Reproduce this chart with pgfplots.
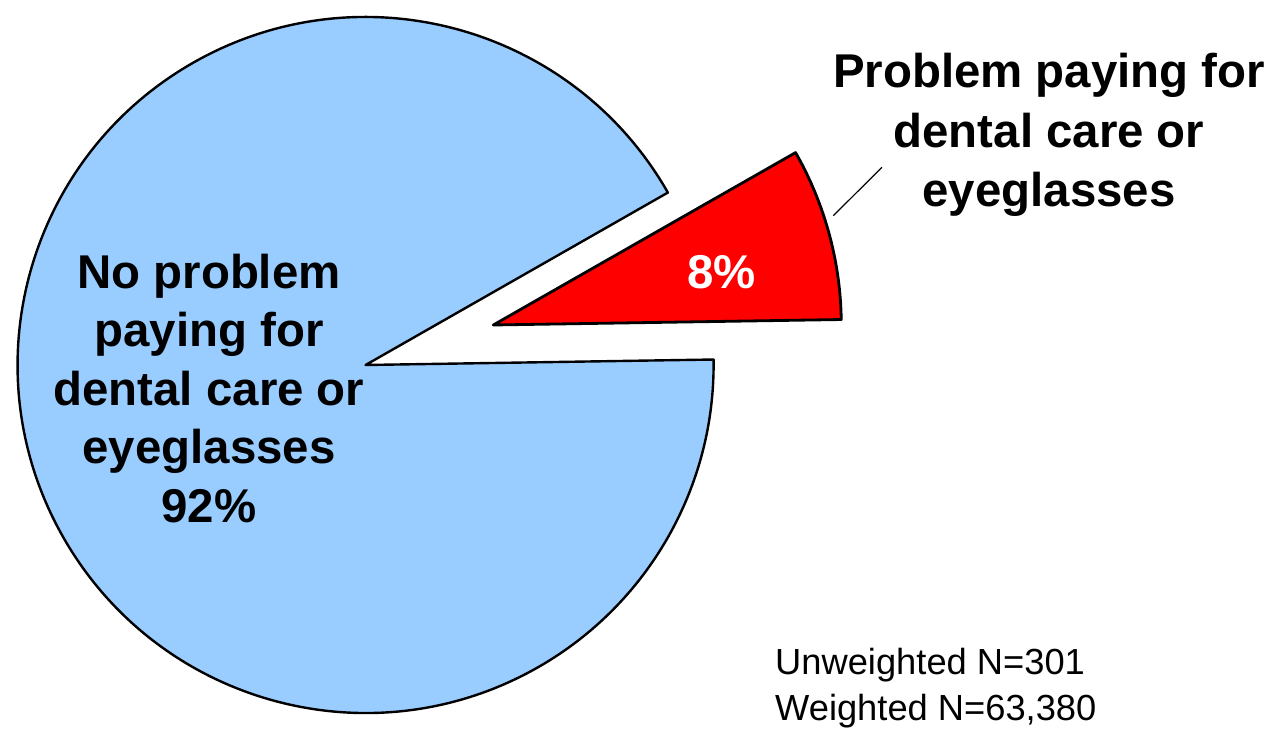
\documentclass[border=0pt]{standalone}
\usepackage{pgfplots}
\pgfplotsset{compat=1.18}
\usepackage{fontspec}
\setmainfont{Liberation Sans}
\definecolor{pieblue}{HTML}{99CCFF}
\definecolor{piered}{HTML}{FF0000}

% slice values (percent)
\def\valNo{92}
\def\valYes{8}
\pgfmathsetmacro\startA{0.9}
\pgfmathsetmacro\endA{\startA+3.6*\valYes}
\pgfmathsetmacro\endB{\endA+3.6*\valNo}

\newcommand\bigfont{\fontsize{47.4}{57}\selectfont\bfseries}
\newcommand\smallfont{\fontsize{36.3}{46}\selectfont}

\begin{document}
\begin{tikzpicture}
\begin{axis}[hide axis, scale only axis, width=1274pt, height=730pt,
  xmin=0, xmax=1274, ymin=0, ymax=730, clip=false]
% main slice (92%)
\filldraw[fill=pieblue, draw=black, line width=2.4pt, line join=round]
  (axis cs:365.6,365) -- ++(\endA:348pt) arc[start angle=\endA, end angle=\endB, radius=348pt] -- cycle;
% exploded slice (8%)
\filldraw[fill=piered, draw=black, line width=2.8pt, line join=round]
  (axis cs:493.3,405) -- ++(\startA:348pt) arc[start angle=\startA, end angle=\endA, radius=348pt] -- cycle;
% leader line
\draw[black, line width=1.2pt] (axis cs:833.3,514.3) -- (axis cs:882,562.7);
% labels
\node[anchor=base, font=\bigfont, text=white] at (axis cs:721.7,441.7) {8\%};
\node[anchor=base, font=\bigfont] at (axis cs:1049,642) {Problem paying for};
\node[anchor=base, font=\bigfont] at (axis cs:1049,582.5) {dental care or};
\node[anchor=base, font=\bigfont] at (axis cs:1049,523.5) {eyeglasses};
\node[anchor=base, font=\bigfont] at (axis cs:209,441.3) {No problem};
\node[anchor=base, font=\bigfont] at (axis cs:209,383) {paying for};
\node[anchor=base, font=\bigfont] at (axis cs:209,324.8) {dental care or};
\node[anchor=base, font=\bigfont] at (axis cs:209,266) {eyeglasses};
\node[anchor=base, font=\bigfont] at (axis cs:209,207.4) {92\%};
\node[anchor=base west, font=\smallfont, inner xsep=0pt] at (axis cs:775,55) {Unweighted N=301};
\node[anchor=base west, font=\smallfont, inner xsep=0pt] at (axis cs:775,9) {Weighted N=63,380};
\end{axis}
\pgfresetboundingbox
\useasboundingbox (0,0) rectangle (1274pt,730pt);
\end{tikzpicture}
\end{document}
